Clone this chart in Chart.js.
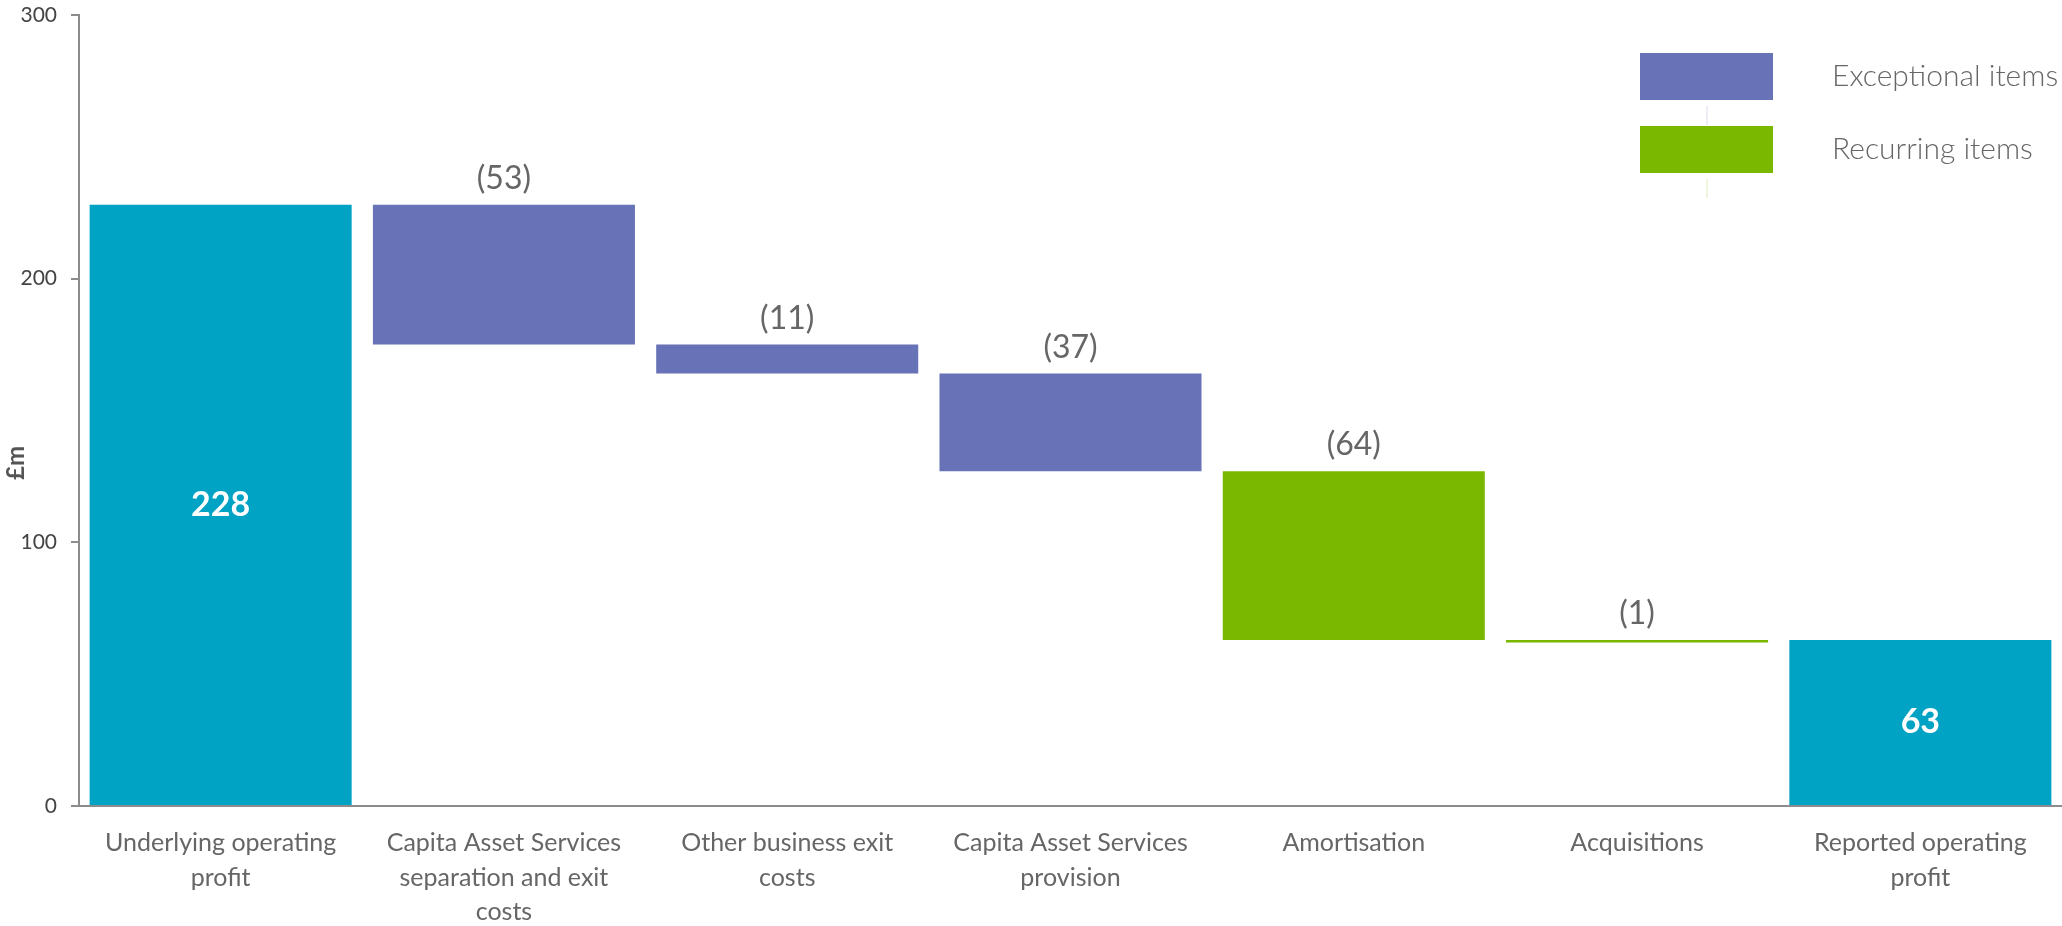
<!DOCTYPE html>
<html>
<head>
<meta charset="utf-8">
<script src="https://cdn.jsdelivr.net/npm/chart.js@4.4.1/dist/chart.umd.min.js"></script>
<style>
  html, body { margin: 0; padding: 0; background: #fff; }
  #wrap { width: 2062px; height: 926px; position: relative; }
</style>
</head>
<body>
<div id="wrap"><canvas id="bridge"></canvas></div>
<script>
const categories = [
    ['Underlying operating', 'profit'],
    ['Capita Asset Services', 'separation and exit', 'costs'],
    ['Other business exit', 'costs'],
    ['Capita Asset Services', 'provision'],
    'Amortisation',
    'Acquisitions',
    ['Reported operating', 'profit']
];
const amounts = [228, -53, -11, -37, -64, -1, 63];
const kinds = ['total', 'exceptional', 'exceptional', 'exceptional', 'recurring', 'recurring', 'total'];
const yTicks = [0, 100, 200, 300];
const legendLabels = ['Exceptional items', 'Recurring items'];

const colours = {
    total: '#00a3c4',
    exceptional: '#6873b7',
    recurring: '#7ab800'
};

// floating bars: totals start at zero, movements hang off the running total
let running = 0;
const ranges = amounts.map((v, i) => {
    if (kinds[i] === 'total') {
        running = v;
        return [0, v];
    }
    const from = running;
    running += v;
    return [from, running];
});

const FONT = 'Lato, "Source Sans Pro", sans-serif';

const barLabels = {
    id: 'barLabels',
    afterDatasetsDraw(chart) {
        const ctx = chart.ctx;
        const meta = chart.getDatasetMeta(0);
        ctx.save();
        ctx.textAlign = 'center';
        ctx.textBaseline = 'middle';
        meta.data.forEach((bar, i) => {
            const v = amounts[i];
            if (kinds[i] === 'total') {
                ctx.font = 'bold 34px ' + FONT;
                ctx.fillStyle = '#ffffff';
                ctx.fillText(String(v), bar.x, (bar.y + bar.base) / 2);
            } else {
                const top = Math.min(bar.y, bar.base);
                ctx.font = '32px ' + FONT;
                ctx.fillStyle = '#666666';
                ctx.fillText('(' + Math.abs(v) + ')', bar.x, top - 26);
            }
        });
        ctx.restore();
    }
};

const sideBits = {
    id: 'sideBits',
    afterDraw(chart) {
        const ctx = chart.ctx;
        ctx.save();
        // y axis title
        ctx.translate(16, chart.height / 2);
        ctx.rotate(-Math.PI / 2);
        ctx.font = 'bold 24px ' + FONT;
        ctx.fillStyle = '#555555';
        ctx.textAlign = 'center';
        ctx.textBaseline = 'middle';
        ctx.fillText('£m', 0, 0);
        ctx.restore();

        // key, top right
        const keyColours = [colours.exceptional, colours.recurring];
        const x0 = 1640, w = 133, h = 47;
        ctx.save();
        legendLabels.forEach((txt, i) => {
            const y = 53 + i * 73;
            ctx.fillStyle = keyColours[i];
            ctx.fillRect(x0, y, w, h);
            ctx.globalAlpha = 0.25;
            ctx.strokeStyle = keyColours[i];
            ctx.lineWidth = 1;
            ctx.beginPath();
            ctx.moveTo(x0 + w / 2 + 0.5, y + h + 6);
            ctx.lineTo(x0 + w / 2 + 0.5, y + h + 25);
            ctx.stroke();
            ctx.globalAlpha = 1;
            ctx.font = '300 30px ' + FONT;
            ctx.fillStyle = '#666666';
            ctx.textAlign = 'left';
            ctx.textBaseline = 'middle';
            ctx.fillText(txt, 1832, y + h / 2);
        });
        ctx.restore();
    }
};

new Chart(document.getElementById('bridge'), {
    type: 'bar',
    data: {
        labels: categories,
        datasets: [{
            data: ranges,
            backgroundColor: kinds.map(k => colours[k]),
            borderWidth: 0,
            borderSkipped: false,
            barPercentage: 0.925,
            categoryPercentage: 1.0
        }]
    },
    options: {
        responsive: true,
        maintainAspectRatio: false,
        animation: false,
        layout: { padding: { top: 15, right: 0, left: 0, bottom: 0 } },
        plugins: {
            legend: { display: false },
            tooltip: { enabled: false }
        },
        scales: {
            x: {
                grid: { display: false, drawTicks: false },
                border: { display: true, color: '#8c8c8c', width: 2 },
                ticks: {
                    color: '#666666',
                    font: { family: FONT, size: 25, lineHeight: 1.38 },
                    padding: 20,
                    maxRotation: 0,
                    autoSkip: false
                },
                afterFit(axis) {
                    axis.height = 120;
                    axis.paddingLeft = 0;
                    axis.paddingRight = 0;
                }
            },
            y: {
                min: 0,
                max: 300,
                afterBuildTicks(axis) { axis.ticks = yTicks.map(v => ({ value: v })); },
                grid: {
                    drawOnChartArea: false,
                    drawTicks: true,
                    tickLength: 8,
                    color: '#8c8c8c',
                    lineWidth: 2
                },
                border: { display: true, color: '#8c8c8c', width: 2 },
                ticks: {
                    color: '#444444',
                    font: { family: FONT, size: 21 },
                    padding: 14
                },
                afterFit(axis) {
                    axis.width = 79;
                    axis.paddingTop = 0;
                    axis.paddingBottom = 0;
                }
            }
        }
    },
    plugins: [barLabels, sideBits]
});
</script>
</body>
</html>
